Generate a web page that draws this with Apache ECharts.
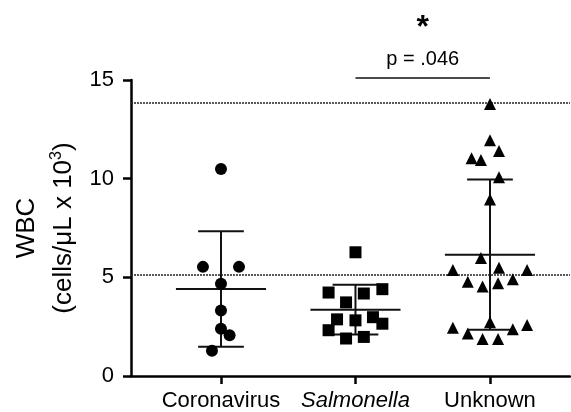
<!DOCTYPE html>
<html>
<head>
<meta charset="utf-8">
<script src="https://cdn.jsdelivr.net/npm/echarts@6/dist/echarts.min.js"></script>
<style>
  html, body { margin: 0; padding: 0; background: #fff; }
  #chart { width: 571px; height: 412px; }
</style>
</head>
<body>
<div id="chart"></div>
<script>
// groups on the x axis (positions 1, 2, 3)
const categories = ['Coronavirus', 'Salmonella', 'Unknown']

// WBC values (cells/uL x 10^3)
const coronavirus = [10.49, 5.53, 5.53, 4.68, 3.32, 2.40, 2.07, 1.28]
const salmonella = [6.27, 4.23, 4.18, 4.40, 3.73, 2.87, 2.82, 2.98, 2.65, 2.32, 1.90, 1.98]
const unknown = [13.78, 11.95, 11.40, 11.03, 10.95, 10.07, 8.95, 5.98, 5.37, 5.48, 5.37,
  4.78, 4.90, 4.53, 4.70, 2.73, 2.45, 2.58, 2.15, 2.37, 1.87, 1.87]

// horizontal scatter of each point around its group (in category units)
const coronavirusSpread = [0, -0.134, 0.134, 0, 0, 0, 0.064, -0.067]
const salmonellaSpread = [0, -0.2, 0.062, 0.2, -0.07, -0.137, 0, 0.13, 0.2, -0.2, -0.07, 0.062]
const unknownSpread = [0, 0, 0.067, -0.137, -0.067, 0.067, 0, -0.067, -0.276, 0.067, 0.276,
  -0.165, 0.17, -0.055, 0.06, 0, -0.276, 0.276, -0.165, 0.17, -0.055, 0.06]

// normal range (dotted lines)
const referenceRange = [5.15, 13.85]

// comparison bracket Salmonella vs Unknown
const comparison = [2, 3]
const pLabel = 'p = .046'
const starLabel = '*'

const FONT = 'Liberation Sans, Arial, Helvetica, sans-serif'

const groups = [coronavirus, salmonella, unknown]
const spreads = [coronavirusSpread, salmonellaSpread, unknownSpread]
const symbols = ['circle', 'rect', 'triangle']

// mean and sample SD for each group
const stats = (arr) => {
  const m = arr.reduce((a, b) => a + b, 0) / arr.length
  const sd = Math.sqrt(arr.reduce((a, b) => a + (b - m) * (b - m), 0) / (arr.length - 1))
  return [m, m - sd, m + sd]
}
const summary = groups.map((g, i) => [i + 1].concat(stats(g)))

const chart = echarts.init(document.getElementById('chart'))

const pointSeries = groups.map((g, i) => ({
  type: 'scatter',
  symbol: symbols[i],
  symbolSize: 12,
  itemStyle: { color: '#000', opacity: 1 },
  z: 5,
  data: g.map((v, j) => [i + 1 + spreads[i][j], v])
}))

const option = {
  animation: false,
  backgroundColor: '#fff',
  grid: { left: 131, right: 1, top: 80, bottom: 34 },
  xAxis: {
    type: 'value',
    min: 0.331,
    max: 3.595,
    axisLine: { lineStyle: { color: '#000', width: 2.5 } },
    axisTick: { customValues: [1, 2, 3], length: 8, lineStyle: { color: '#000', width: 2.5 } },
    axisLabel: {
      customValues: [1, 2, 3],
      margin: 14,
      color: '#000',
      fontSize: 22,
      fontFamily: FONT,
      formatter: (v) => {
        const name = categories[Math.round(v) - 1]
        return name === 'Salmonella' ? '{i|' + name + '}' : name
      },
      rich: { i: { fontStyle: 'italic', fontSize: 22, fontFamily: FONT, color: '#000' } }
    },
    splitLine: { show: false }
  },
  yAxis: {
    type: 'value',
    min: 0,
    max: 15,
    interval: 5,
    name: '{a|WBC}\n{b|(cells/μL x 10}{s|3}{b|)}',
    nameLocation: 'middle',
    nameGap: 49,
    nameTextStyle: {
      color: '#000',
      fontFamily: FONT,
      rich: {
        a: { fontSize: 26, lineHeight: 37, fontFamily: FONT, color: '#000' },
        b: { fontSize: 26, lineHeight: 37, fontFamily: FONT, color: '#000' },
        s: { fontSize: 16, lineHeight: 37, verticalAlign: 'top', padding: [4, 0, 0, 0], fontFamily: FONT, color: '#000' }
      }
    },
    axisLine: { show: true, lineStyle: { color: '#000', width: 2.5 } },
    axisTick: { show: true, length: 8, lineStyle: { color: '#000', width: 2.5 } },
    axisLabel: { margin: 17, color: '#000', fontSize: 22, fontFamily: FONT },
    splitLine: { show: false }
  },
  series: [
    {
      // mean with SD whiskers
      type: 'custom',
      z: 3,
      data: summary,
      renderItem: (params, api) => {
        const x = api.value(0)
        const m = api.value(1)
        const lo = api.value(2)
        const hi = api.value(3)
        const style = { stroke: '#111', lineWidth: 2 }
        const seg = (a, b) => ({ type: 'line', shape: { x1: a[0], y1: a[1], x2: b[0], y2: b[1] }, style })
        return {
          type: 'group',
          children: [
            seg(api.coord([x - 0.335, m]), api.coord([x + 0.335, m])),
            seg(api.coord([x, lo]), api.coord([x, hi])),
            seg(api.coord([x - 0.17, lo]), api.coord([x + 0.17, lo])),
            seg(api.coord([x - 0.17, hi]), api.coord([x + 0.17, hi]))
          ]
        }
      },
      markLine: {
        silent: true,
        symbol: 'none',
        label: { show: false },
        lineStyle: { type: [2, 1], color: '#222', width: 1.5, opacity: 1 },
        data: referenceRange.map((v) => ({ yAxis: v }))
      }
    },
    {
      // significance bracket
      type: 'line',
      clip: false,
      symbol: 'none',
      lineStyle: { color: '#111', width: 1.5 },
      data: comparison.map((c) => [c, 15.1])
    },
    {
      type: 'scatter',
      clip: false,
      symbolSize: 1,
      itemStyle: { color: 'rgba(0,0,0,0)', opacity: 1 },
      label: { show: true, position: 'inside', color: '#000', fontFamily: FONT, fontSize: 20, formatter: pLabel },
      data: [[(comparison[0] + comparison[1]) / 2, 16.05]]
    },
    {
      type: 'scatter',
      clip: false,
      symbolSize: 1,
      itemStyle: { color: 'rgba(0,0,0,0)', opacity: 1 },
      label: { show: true, position: 'inside', color: '#000', fontFamily: FONT, fontSize: 32, fontWeight: 'bold', formatter: starLabel },
      data: [[(comparison[0] + comparison[1]) / 2, 17.65]]
    }
  ].concat(pointSeries)
}

chart.setOption(option)
</script>
</body>
</html>
